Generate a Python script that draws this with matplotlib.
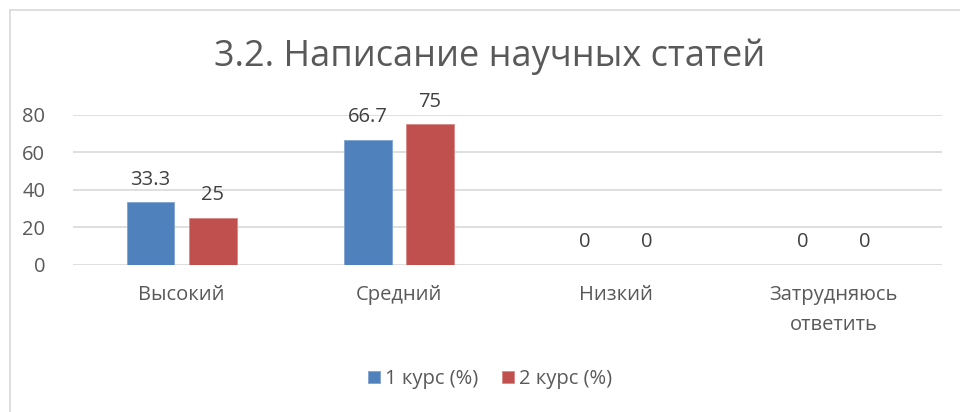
import matplotlib
matplotlib.use("Agg")
import matplotlib.pyplot as plt
from matplotlib.lines import Line2D
import numpy as np

categories = ["Высокий", "Средний", "Низкий", "Затрудняюсь\nответить"]
series_names = ["1 курс (%)", "2 курс (%)"]
course1 = [33.3, 66.7, 0, 0]
course2 = [25, 75, 0, 0]
labels1 = ["33.3", "66.7", "0", "0"]
labels2 = ["25", "75", "0", "0"]
yticks = [0, 20, 40, 60, 80]

plt.rcParams['font.family'] = ['Open Sans', 'DejaVu Sans']
txt = "#595959"

fig = plt.figure(figsize=(9.6, 4.12), dpi=100)
ax = fig.add_axes([73/960, 147.5/412, 869/960, 149.5/412])

x = np.arange(len(categories))
w = 0.22
off = 0.143
b1 = ax.bar(x - off, course1, w, color="#4F81BD", edgecolor="#7fa3d1", linewidth=0.6, label=series_names[0], zorder=3)
b2 = ax.bar(x + off, course2, w, color="#C0504D", edgecolor="#d98886", linewidth=0.6, label=series_names[1], zorder=3)
ax.bar_label(b1, labels=labels1, padding=9, fontsize=14.5, color="#404040")
ax.bar_label(b2, labels=labels2, padding=9, fontsize=14.5, color="#404040")

ax.set_xlim(-0.5, len(categories) - 0.5)
ax.set_ylim(0, 80)
ax.set_yticks(yticks)
ax.set_xticks(x)
ax.set_xticklabels(categories, fontsize=14.5, color=txt, linespacing=1.66)
ax.tick_params(axis='y', labelsize=14.5, labelcolor=txt, length=0, pad=20)
ax.tick_params(axis='x', length=0, pad=15)
ax.grid(axis='y', color="#D9D9D9", linewidth=1.2, zorder=0)
for s in ax.spines.values():
    s.set_visible(False)
ax.set_axisbelow(True)

fig.text(490/960, 1 - 57/412, "3.2. Написание научных статей", ha='center', va='center',
         fontsize=26, color=txt)

fig.legend(handles=[b1, b2], labels=series_names, loc='center', bbox_to_anchor=(490/960, 1 - 379/412),
           ncol=2, frameon=False, fontsize=14.5, labelcolor=txt, handlelength=0.6, handleheight=0.6,
           handletextpad=0.25, columnspacing=1.2)

fig.add_artist(Line2D([9.5/960, 9.5/960], [0, 1 - 9.5/412], transform=fig.transFigure, color="#D9D9D9", linewidth=1.2))
fig.add_artist(Line2D([9.5/960, 1], [1 - 9.5/412, 1 - 9.5/412], transform=fig.transFigure, color="#D9D9D9", linewidth=1.2))

fig.savefig("out.png", dpi=100)
